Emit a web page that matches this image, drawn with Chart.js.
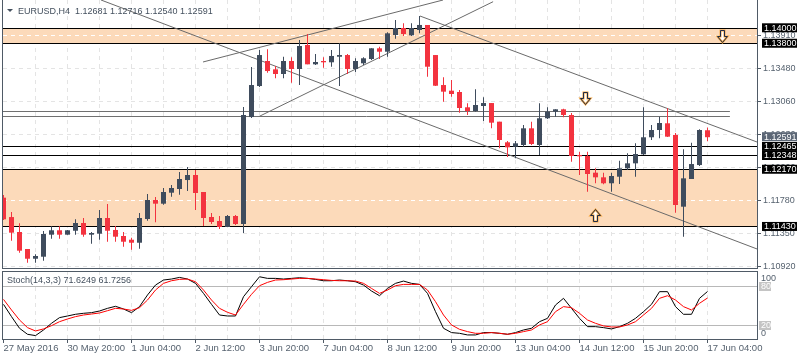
<!DOCTYPE html>
<html><head><meta charset="utf-8">
<script src="https://cdn.jsdelivr.net/npm/chart.js@4.4.1/dist/chart.umd.min.js"></script>
<style>
html,body{margin:0;padding:0;background:#fff;}
#wrap{position:relative;width:800px;height:360px;overflow:hidden;background:#fff;}
#c1{position:absolute;left:0;top:0;}
#c2{position:absolute;left:0;top:270px;}
</style></head><body>
<div id="wrap"><canvas id="c1" width="800" height="270"></canvas><canvas id="c2" width="800" height="90"></canvas></div>
<script>
// ---------- DATA ----------
const symbolName = 'EURUSD,H4';
const openP = [1.11809,1.11558,1.11365,1.11145,1.11019,1.11045,1.11330,1.11387,1.11330,1.11381,
1.11481,1.11330,1.11343,1.11546,1.11391,1.11313,1.11265,1.11226,1.11533,1.11779,
1.11731,1.11873,1.11921,1.12037,1.12102,1.11882,1.11559,1.11507,1.11429,1.11572,
1.11468,1.12852,1.13253,1.13577,1.13469,1.13409,1.13577,1.13473,1.13784,1.13534,
1.13577,1.13560,1.13632,1.13654,1.13473,1.13547,1.13603,1.13741,1.13697,1.13913,
1.14004,1.13909,1.13978,1.14043,1.13654,1.13266,1.13193,1.13176,1.12978,1.12930,
1.12995,1.13033,1.12792,1.12525,1.12468,1.12490,1.12706,1.12490,1.12836,1.12921,
1.12952,1.12878,1.12361,1.12348,1.12132,1.12072,1.11995,1.12080,1.12189,1.12253,
1.12370,1.12590,1.12684,1.12771,1.12620,1.11692,1.12050,1.12231,1.12681];
const highP = [1.11843,1.11623,1.11477,1.11145,1.11076,1.11378,1.11438,1.11438,1.11391,1.11529,
1.11546,1.11365,1.11649,1.11727,1.11442,1.11365,1.11291,1.11610,1.11856,1.11817,
1.11934,1.11973,1.12141,1.12206,1.12167,1.11882,1.11610,1.11572,1.11585,1.11585,
1.12982,1.13499,1.13719,1.13728,1.13512,1.13632,1.13625,1.13849,1.13926,1.13667,
1.13625,1.13719,1.13806,1.13667,1.13612,1.13625,1.13741,1.13762,1.13948,1.14107,
1.14065,1.14065,1.14159,1.14043,1.13654,1.13366,1.13331,1.13202,1.13030,1.13211,
1.13107,1.13033,1.12792,1.12542,1.12542,1.12749,1.12792,1.13030,1.12978,1.12952,
1.12960,1.12904,1.12404,1.12404,1.12189,1.12132,1.12132,1.12287,1.12383,1.12512,
1.12978,1.12749,1.12856,1.12965,1.12645,1.12434,1.12520,1.12693,1.12716];
const lowP = [1.11520,1.11252,1.11097,1.10967,1.10967,1.10993,1.11278,1.11278,1.11330,1.11330,
1.11304,1.11213,1.11265,1.11239,1.11239,1.11175,1.11136,1.11149,1.11511,1.11490,
1.11718,1.11821,1.11847,1.11895,1.11649,1.11442,1.11468,1.11404,1.11429,1.11455,
1.11352,1.12839,1.13240,1.13425,1.13353,1.13353,1.13296,1.13266,1.13534,1.13525,
1.13490,1.13503,1.13253,1.13409,1.13435,1.13525,1.13590,1.13603,1.13632,1.13865,
1.13900,1.13900,1.13935,1.13374,1.13253,1.13050,1.13115,1.12908,1.12878,1.12921,
1.12801,1.12706,1.12447,1.12335,1.12318,1.12468,1.12490,1.12361,1.12827,1.12856,
1.12849,1.12274,1.12102,1.11886,1.11995,1.11982,1.11886,1.11986,1.12167,1.12080,
1.12361,1.12555,1.12577,1.12594,1.11614,1.11304,1.12050,1.12218,1.12540];
const closeP = [1.11529,1.11356,1.11123,1.11019,1.11054,1.11339,1.11387,1.11330,1.11387,1.11481,
1.11330,1.11352,1.11546,1.11381,1.11304,1.11239,1.11226,1.11546,1.11779,1.11731,
1.11882,1.11934,1.12050,1.12102,1.11869,1.11546,1.11494,1.11429,1.11572,1.11468,
1.12878,1.13266,1.13654,1.13447,1.13409,1.13577,1.13473,1.13771,1.13534,1.13564,
1.13560,1.13642,1.13654,1.13473,1.13577,1.13612,1.13741,1.13697,1.13935,1.14004,
1.13926,1.14004,1.14043,1.13503,1.13257,1.13180,1.13150,1.12969,1.12930,1.13008,
1.13033,1.12779,1.12555,1.12460,1.12512,1.12706,1.12503,1.12836,1.12921,1.12952,
1.12878,1.12348,1.12344,1.12115,1.12072,1.11995,1.12089,1.12189,1.12253,1.12374,
1.12590,1.12684,1.12775,1.12598,1.11714,1.12059,1.12244,1.12684,1.12591];
const stochK = [52,33.2,15.4,6.2,4.2,12.8,23,31.7,34.2,36.8,
38.3,39.3,41.8,45.9,49,44.9,39.3,48.5,66.3,81.5,
89.2,90.7,93.2,90.7,84.1,68.8,52,35.7,34.2,34.2,
63.7,79,94.2,91.7,91.7,90.7,91.7,92.7,91.7,90.2,
88.1,88.1,89.2,88.1,86.6,81.5,72.4,65.2,76.4,84.1,
87.6,84.1,82.5,68.8,40.8,15.4,8.8,7.7,5.2,5.2,
8.8,8.8,7.7,6.2,8.8,12.8,15.4,25.5,30.6,51,
61.2,45.9,30.6,17.9,17.9,16.4,14.4,17.9,23,30.6,
40.8,52,71.4,71.4,48.5,36.8,36.8,61.2,71.6249];
const stochD = [59.6,43.4,28.1,16.4,11.3,14.4,19.4,25.5,29.6,33.2,
35.7,37.2,38.8,42.3,45.9,44.9,42.8,46.9,58.6,73.9,
84.1,88.1,90.2,90.7,86.6,73.9,58.6,45.9,39.8,35.7,
52,67.3,80.5,85.6,89.2,89.7,90.7,91.7,91.7,90.7,
89.7,88.6,88.1,88.1,87.6,84.1,76.4,68.8,73.9,80.5,
82.5,82.5,82.5,73.9,56.1,35.7,20.5,13.8,10.3,7.7,
7.7,8.8,7.7,6.2,7.7,10.3,12.8,20.5,25.5,40.8,
48.5,46.9,38.3,28.1,23,19,17.4,17.4,20.5,25.5,
35.7,45.9,61.2,65.2,58.6,48.5,43.4,53.6,61.7256];
const timeLabels = ['27 May 2016','30 May 20:00','1 Jun 04:00','2 Jun 12:00','3 Jun 20:00','7 Jun 04:00',
'8 Jun 12:00','9 Jun 20:00','13 Jun 04:00','14 Jun 12:00','15 Jun 20:00','17 Jun 04:00'];
const priceTicks = [1.10920,1.11347,1.11774,1.12201,1.12628,1.13055,1.13482,1.13909];
const priceTickLabels = ['1.10920','1.11350','1.11780','1.12200','1.12630','1.13060','1.13480','1.13910'];
const levelLines = [1.14000,1.13800,1.12465,1.12348,1.12170,1.11430];
const zoneLow = [1.13800,1.11430];
const zoneHigh = [1.14000,1.12170];
const grayLines = [1.12930,1.12865];
const grayLineEndBar = 90.8;
const trendStartBar = [12.19,52.06,24.94,32.06];
const trendStartPrice = [1.14366,1.14159,1.13564,1.12865];
const trendEndBar = [94.19,94.19,54.94,61.2];
const trendEndPrice = [1.11145,1.12529,1.14366,1.14344];
const arrowBar = [89.81,72.69,73.94];
const arrowPrice = [1.13899,1.13095,1.11591];
const arrowDir = ['down','down','up'];
const stochLevels = [20,80];
const stochScaleLabels = ['0','20','80','100'];
const stochName = 'Stoch(14,3,3)';

// ---------- CONFIG ----------
const FONT = '"Liberation Sans", Arial, sans-serif';
const upColor = '#3f4c5d', downColor = '#f3333f';
const frameColor = '#4f5a66', axisText = '#56626f', gridColor = '#e4e4e4';
const bandColor = '#fcdaba';
const X_MIN = -0.0625, X_MAX = 94.1875;
const P_MIN = 1.10899, P_MAX = 1.14366;
Chart.defaults.font.family = FONT;

const n = openP.length;
const idx = openP.map((_, i) => i);
const candleColors = idx.map(i => closeP[i] >= openP[i] ? upColor : downColor);
const gridBars = idx.filter(i => i % 4 === 0 && i > 0 && i <= 92);
const stochGridBars = idx.filter(i => i % 4 === 0);

const mainDatasets = [
  {type:'bar', data: idx.map(i => ({x:i, y:[openP[i], closeP[i]]})), backgroundColor: candleColors,
   barThickness:5, grouped:false, minBarLength:1, inflateAmount:0, borderWidth:0},
  {type:'bar', data: idx.map(i => ({x:i, y:[lowP[i], highP[i]]})), backgroundColor: candleColors,
   barThickness:1, grouped:false, inflateAmount:0, borderWidth:0}
];
trendStartBar.forEach((b, k) => mainDatasets.push({type:'line',
  data:[{x:b,y:trendStartPrice[k]},{x:trendEndBar[k],y:trendEndPrice[k]}],
  borderColor:'#6a6a6a', borderWidth:1, pointRadius:0}));

function drawArrow(ctx, cx, cy, dir) {
  const s = dir === 'down' ? 1 : -1;
  ctx.save();
  ctx.translate(Math.round(cx) + 0.5, Math.round(cy) + 0.5);
  ctx.scale(1, s);
  ctx.beginPath();
  ctx.moveTo(-2,-6); ctx.lineTo(2,-6); ctx.lineTo(2,0); ctx.lineTo(5,0);
  ctx.lineTo(0,6); ctx.lineTo(-5,0); ctx.lineTo(-2,0); ctx.closePath();
  ctx.fillStyle = '#fff'; ctx.fill();
  ctx.lineWidth = 2; ctx.strokeStyle = '#f5a640'; ctx.stroke();
  ctx.lineWidth = 1; ctx.strokeStyle = '#1f2c48'; ctx.stroke();
  ctx.restore();
}

const mainDeco = {
  id:'mainDeco',
  beforeDatasetsDraw(chart) {
    const {ctx, chartArea:a, scales:{x, y}} = chart;
    ctx.save();
    ctx.beginPath(); ctx.rect(a.left, a.top, a.right - a.left, a.bottom - a.top); ctx.clip();
    zoneLow.forEach((lo, k) => {
      const hi = zoneHigh[k];
      const y1 = y.getPixelForValue(hi), y2 = y.getPixelForValue(lo);
      ctx.fillStyle = bandColor; ctx.fillRect(a.left, y1, a.right - a.left, y2 - y1);
      ctx.strokeStyle = '#ffffff'; ctx.lineWidth = 1; ctx.setLineDash([4,4]);
      priceTicks.filter(v => v > lo && v < hi).forEach(v => {
        const py = Math.round(y.getPixelForValue(v)) + 0.5;
        ctx.beginPath(); ctx.moveTo(a.left, py); ctx.lineTo(a.right, py); ctx.stroke();
      });
      ctx.setLineDash([]);
    });
    // horizontal gray lines and black level lines, snapped to pixels
    ctx.lineWidth = 1;
    ctx.strokeStyle = '#707070';
    const gx2 = x.getPixelForValue(grayLineEndBar);
    grayLines.forEach(v => {
      const py = Math.floor(y.getPixelForValue(v)) + 0.5;
      ctx.beginPath(); ctx.moveTo(a.left, py); ctx.lineTo(gx2, py); ctx.stroke();
    });
    ctx.strokeStyle = '#000000';
    levelLines.forEach(v => {
      const py = Math.floor(y.getPixelForValue(v)) + 0.5;
      ctx.beginPath(); ctx.moveTo(a.left, py); ctx.lineTo(a.right, py); ctx.stroke();
    });
    ctx.restore();
  },
  afterDatasetsDraw(chart) {
    const {ctx, chartArea:a, scales:{x, y}} = chart;
    ctx.save();
    ctx.beginPath(); ctx.rect(a.left, a.top, a.right - a.left, a.bottom - a.top); ctx.clip();
    arrowBar.forEach((b, k) => drawArrow(ctx, x.getPixelForValue(b), y.getPixelForValue(arrowPrice[k]), arrowDir[k]));
    ctx.restore();
  },
  afterDraw(chart) {
    const {ctx, chartArea:a, scales:{y}} = chart;
    ctx.save();
    // left frame line
    ctx.strokeStyle = frameColor; ctx.lineWidth = 1;
    ctx.beginPath(); ctx.moveTo(a.left - 0.5, a.top); ctx.lineTo(a.left - 0.5, a.bottom + 1); ctx.stroke();
    // title
    ctx.fillStyle = '#44505e';
    ctx.beginPath(); ctx.moveTo(7, 9); ctx.lineTo(13, 9); ctx.lineTo(10, 12); ctx.closePath(); ctx.fill();
    ctx.font = '9px ' + FONT; ctx.textBaseline = 'middle'; ctx.textAlign = 'left';
    const last = n - 1;
    const q = [openP[last], highP[last], lowP[last], closeP[last]].map(v => v.toFixed(5)).join(' ');
    ctx.fillText(symbolName + '  ' + q, 18, 11.5);
    // right-side price markers
    const marks = levelLines.map(v => ({v, cur:false}));
    marks.push({v: closeP[last], cur:true});
    marks.sort((p, r) => p.v - r.v);
    let prevTop = Infinity;
    marks.forEach(m => {
      const c = y.getPixelForValue(m.v) - 0.5;
      const bottom = Math.min(c + 4.5, prevTop);
      const top = bottom - 9;
      prevTop = top;
      ctx.fillStyle = m.cur ? '#5b6675' : '#000';
      ctx.fillRect(762, top, 35, 9);
      ctx.fillStyle = '#fff';
      ctx.font = '9px ' + FONT; ctx.textBaseline = 'middle';
      ctx.fillText(m.v.toFixed(5), 764, top + 5);
    });
    ctx.restore();
  }
};

new Chart(document.getElementById('c1'), {
  type:'bar',
  data:{datasets: mainDatasets},
  options:{
    responsive:false, animation:false, devicePixelRatio:1, events:[],
    layout:{padding:{left:3, top:0, right:0, bottom:2}},
    plugins:{legend:{display:false}, tooltip:{enabled:false}, title:{display:false}},
    scales:{
      x:{type:'linear', min:X_MIN, max:X_MAX, offset:false, bounds:'data',
        afterBuildTicks:s => { s.ticks = gridBars.map(v => ({value:v})); },
        ticks:{display:false},
        grid:{display:true, offset:false, color:gridColor, drawTicks:false},
        border:{display:true, color:frameColor, dash:[4,4]},
        afterFit:s => { s.height = 0; s.paddingLeft = 0; s.paddingRight = 0; }
      },
      y:{type:'linear', position:'right', min:P_MIN, max:P_MAX, bounds:'data', beginAtZero:false,
        afterBuildTicks:s => { s.ticks = priceTicks.map(v => ({value:v})); },
        ticks:{autoSkip:false, padding:2, color:axisText, font:{family:FONT, size:9},
          callback:(v, i) => priceTickLabels[i]},
        grid:{color:gridColor, tickLength:4, tickColor:frameColor, drawTicks:true},
        border:{display:true, color:frameColor, dash:[4,4]},
        afterFit:s => { s.width = 43; s.paddingTop = 0; s.paddingBottom = 0; }
      }
    }
  },
  plugins:[mainDeco]
});

// ---------- STOCHASTIC ----------
const stochDeco = {
  id:'stochDeco',
  afterDraw(chart) {
    const {ctx, chartArea:a, scales:{y}} = chart;
    ctx.save();
    ctx.strokeStyle = frameColor; ctx.lineWidth = 1;
    ctx.beginPath(); ctx.moveTo(a.left - 0.5, a.top); ctx.lineTo(a.left - 0.5, a.bottom + 1); ctx.stroke();
    ctx.beginPath(); ctx.moveTo(a.left - 1, a.top + 0.5); ctx.lineTo(a.right + 1, a.top + 0.5); ctx.stroke();
    ctx.font = '9px ' + FONT; ctx.textBaseline = 'middle'; ctx.textAlign = 'left';
    ctx.fillStyle = '#44505e';
    ctx.fillText(stochName + ' ' + stochK[n-1].toFixed(4) + ' ' + stochD[n-1].toFixed(4), 7, 10.5);
    const vals = [0, 20, 80, 100];
    vals.forEach((v, k) => {
      let py = y.getPixelForValue(v);
      if (v === 100) py += 5.5;
      if (v === 0) py -= 5.5;
      if (v === 20 || v === 80) {
        ctx.fillStyle = '#c4c4c4'; ctx.fillRect(759, Math.round(py) - 4, 12, 9);
        ctx.fillStyle = '#fff';
      } else {
        ctx.fillStyle = axisText;
      }
      ctx.fillText(stochScaleLabels[k], 761, py + 0.5);
    });
    ctx.restore();
  }
};

new Chart(document.getElementById('c2'), {
  type:'line',
  data:{datasets:[
    {data: idx.map(i => ({x:i, y:stochD[i]})), borderColor:'#ff0000', borderWidth:1, pointRadius:0, tension:0},
    {data: idx.map(i => ({x:i, y:stochK[i]})), borderColor:'#000000', borderWidth:1, pointRadius:0, tension:0}
  ]},
  options:{
    responsive:false, animation:false, devicePixelRatio:1, events:[],
    layout:{padding:{left:3, top:1, right:0, bottom:0}},
    plugins:{legend:{display:false}, tooltip:{enabled:false}},
    scales:{
      x:{type:'linear', min:X_MIN, max:X_MAX, offset:false, bounds:'data',
        afterBuildTicks:s => { s.ticks = stochGridBars.map(v => ({value:v})); },
        ticks:{autoSkip:false, maxRotation:0, minRotation:0, align:'start', padding:0,
          color:axisText, font:{family:FONT, size:9.5},
          callback:(v) => (v % 8 === 0 ? (timeLabels[v / 8] || '') : '')},
        grid:{color:c => (c.index === 0 ? 'rgba(0,0,0,0)' : gridColor),
          tickColor:c => ((c.tick && c.tick.value % 8 === 0) ? frameColor : 'rgba(0,0,0,0)'),
          tickLength:4, drawTicks:true},
        border:{display:true, color:frameColor, dash:[4,4]},
        afterFit:s => { s.height = 21; s.paddingLeft = 0; s.paddingRight = 0; }
      },
      y:{type:'linear', position:'right', min:-1, max:103, bounds:'data',
        afterBuildTicks:s => { s.ticks = stochLevels.map(v => ({value:v})); },
        ticks:{display:false},
        grid:{color:'#b8b8b8', drawTicks:false},
        border:{display:true, color:frameColor},
        afterFit:s => { s.width = 43; s.paddingTop = 0; s.paddingBottom = 0; }
      }
    }
  },
  plugins:[stochDeco]
});
</script>
</body></html>
